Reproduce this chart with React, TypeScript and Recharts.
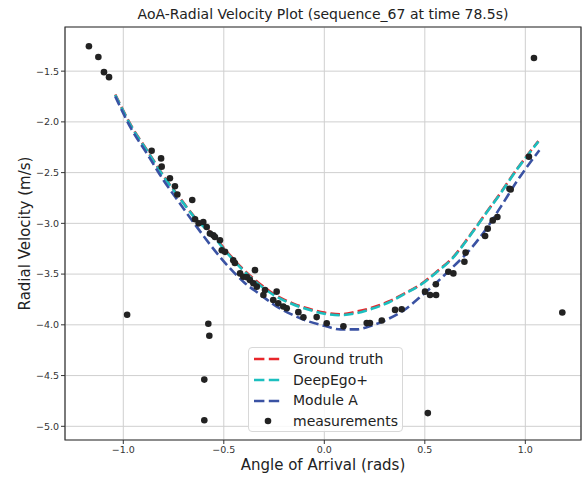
import React from 'react';
import {
  ComposedChart, Line, Scatter, XAxis, YAxis, CartesianGrid, ReferenceArea, Legend,
} from 'recharts';

// ---- data ----
const titleText = 'AoA-Radial Velocity Plot (sequence_67 at time 78.5s)';
const xLabel = 'Angle of Arrival (rads)';
const yLabel = 'Radial Velocity (m/s)';
const seriesNames = ['Ground truth', 'DeepEgo+', 'Module A', 'measurements'];

const xTicks = [-1.0, -0.5, 0.0, 0.5, 1.0];
const yTicks = [-5.0, -4.5, -4.0, -3.5, -3.0, -2.5, -2.0, -1.5];
const xDomain = [-1.29, 1.277];
const yDomain = [-5.135, -1.065];

const curveX = [-1.04, -0.96, -0.88, -0.8, -0.72, -0.64, -0.56, -0.48, -0.4, -0.32, -0.24, -0.16, -0.08, 0.0, 0.08, 0.16, 0.24, 0.32, 0.4, 0.48, 0.56, 0.64, 0.72, 0.8, 0.88, 0.96, 1.065];
const groundTruthY = [-1.73, -2.04, -2.285, -2.53, -2.745, -2.95, -3.10, -3.29, -3.46, -3.597, -3.71, -3.786, -3.84, -3.88, -3.897, -3.87, -3.83, -3.77, -3.69, -3.60, -3.475, -3.335, -3.13, -2.91, -2.69, -2.46, -2.19];
const deepEgoY = [-1.735, -2.045, -2.29, -2.535, -2.75, -2.955, -3.11, -3.30, -3.47, -3.61, -3.72, -3.795, -3.85, -3.89, -3.905, -3.885, -3.84, -3.78, -3.695, -3.605, -3.48, -3.34, -3.135, -2.915, -2.695, -2.465, -2.195];
const moduleAX = [-1.04, -0.96, -0.88, -0.8, -0.72, -0.64, -0.56, -0.48, -0.4, -0.32, -0.24, -0.16, -0.08, 0.0, 0.08, 0.16, 0.24, 0.32, 0.4, 0.48, 0.56, 0.64, 0.72, 0.8, 0.88, 0.96, 1.07];
const moduleAY = [-1.75, -2.07, -2.32, -2.575, -2.80, -3.02, -3.23, -3.42, -3.58, -3.70, -3.815, -3.90, -3.965, -4.01, -4.045, -4.045, -4.005, -3.94, -3.85, -3.72, -3.58, -3.43, -3.27, -3.07, -2.83, -2.58, -2.28];

const measX = [-1.171, -1.124, -1.096, -1.071, -0.981, -0.859, -0.812, -0.809, -0.768, -0.743, -0.731, -0.657, -0.643, -0.625, -0.602, -0.597, -0.597, -0.585, -0.577, -0.572, -0.569, -0.552, -0.544, -0.519, -0.51, -0.494, -0.453, -0.445, -0.419, -0.403, -0.385, -0.37, -0.345, -0.353, -0.336, -0.303, -0.295, -0.237, -0.254, -0.229, -0.204, -0.187, -0.129, -0.104, -0.038, 0.012, 0.095, 0.211, 0.227, 0.286, 0.352, 0.385, 0.501, 0.515, 0.526, 0.556, 0.555, 0.617, 0.642, 0.697, 0.703, 0.8, 0.813, 0.838, 0.861, 0.921, 0.927, 1.018, 1.043, 1.184];
const measY = [-1.255, -1.36, -1.51, -1.559, -3.9, -2.284, -2.36, -2.441, -2.556, -2.634, -2.716, -2.77, -2.96, -3.0, -2.987, -4.54, -4.94, -3.036, -3.99, -4.108, -3.101, -3.118, -3.134, -3.167, -3.265, -3.281, -3.363, -3.39, -3.493, -3.526, -3.53, -3.559, -3.461, -3.591, -3.624, -3.706, -3.657, -3.673, -3.755, -3.787, -3.82, -3.836, -3.875, -3.925, -3.924, -3.985, -4.015, -3.983, -3.983, -3.958, -3.853, -3.846, -3.673, -4.87, -3.706, -3.706, -3.6, -3.477, -3.493, -3.379, -3.288, -3.124, -3.052, -2.971, -2.938, -2.66, -2.667, -2.343, -1.37, -3.879];

const colors = ['#e8262b', '#1cbfbf', '#3a52a3', '#222222'];

const gtData = curveX.map((x, i) => ({ x, y: groundTruthY[i] }));
const deData = curveX.map((x, i) => ({ x, y: deepEgoY[i] }));
const maData = moduleAX.map((x, i) => ({ x, y: moduleAY[i] }));
const measData = measX.map((x, i) => ({ x, y: measY[i] }));

const FONT = '"DejaVu Sans", sans-serif';
const fmt = (v: number) => (v < 0 ? '\u2212' : '') + Math.abs(v).toFixed(1);
const DASH = '9.6 4.2';

const LegendBox = () => (
  <div style={{
    width: 155, height: 85, boxSizing: 'border-box', border: '1px solid #d8d8d8', borderRadius: 4,
    background: 'rgba(255,255,255,0.85)', fontFamily: FONT, fontSize: 14, color: '#222', paddingTop: 1,
  }}>
    {seriesNames.map((name, i) => (
      <div key={name} style={{ display: 'flex', alignItems: 'center', height: 20.7 }}>
        <svg width={44} height={12} style={{ display: 'block' }}>
          {i < 3 ? (
            <line x1={5} y1={6} x2={31} y2={6} stroke={colors[i]} strokeWidth={2.6} strokeDasharray="10.4 4.4" />
          ) : (
            <circle cx={19} cy={6} r={3.3} fill={colors[3]} />
          )}
        </svg>
        <span style={{ whiteSpace: 'nowrap', lineHeight: '15px' }}>{name}</span>
      </div>
    ))}
  </div>
);

const Dot = (props: any) => <circle cx={props.cx} cy={props.cy} r={3.3} fill={colors[3]} />;

export default function App() {
  return (
    <div style={{ position: 'absolute', left: 0, top: 0, width: 587, height: 478, background: '#fff' }}>
      <div style={{
        position: 'absolute', left: 0, top: 6, width: 646, textAlign: 'center', fontFamily: FONT,
        fontSize: 14, lineHeight: '16px', color: '#222', zIndex: 2,
      }}>{titleText}</div>
      <ComposedChart width={587} height={478} margin={{ top: 27, right: 6, bottom: 0, left: 0 }}>
        <CartesianGrid stroke="#cfcfcf" strokeWidth={1} />
        <XAxis
          type="number" dataKey="x" domain={xDomain} ticks={xTicks} allowDataOverflow
          tickFormatter={fmt} height={38} axisLine={false} tickSize={4} tickMargin={2}
          tickLine={{ stroke: '#333' }} tick={{ fill: '#333', fontSize: 9.5, fontFamily: FONT }}
          label={{
            content: () => (
              <text x={323} y={470} textAnchor="middle" fontFamily={FONT} fontSize={15} fill="#222">{xLabel}</text>
            ),
          }}
        />
        <YAxis
          type="number" dataKey="y" domain={yDomain} ticks={yTicks} allowDataOverflow
          tickFormatter={fmt} width={65} axisLine={false} tickSize={4} tickMargin={2}
          tickLine={{ stroke: '#333' }} tick={{ fill: '#333', fontSize: 9.5, fontFamily: FONT }}
          label={{
            content: () => (
              <text x={30} y={233.5} transform="rotate(-90, 30, 233.5)" textAnchor="middle" fontFamily={FONT} fontSize={15} fill="#222">{yLabel}</text>
            ),
          }}
        />
        <Scatter name={seriesNames[3]} data={measData} shape={Dot} isAnimationActive={false} />
        <Line name={seriesNames[0]} data={gtData} dataKey="y" type="monotone" stroke={colors[0]} strokeWidth={2.6} strokeDasharray={DASH} dot={false} activeDot={false} isAnimationActive={false} />
        <Line name={seriesNames[1]} data={deData} dataKey="y" type="monotone" stroke={colors[1]} strokeWidth={2.6} strokeDasharray={DASH} dot={false} activeDot={false} isAnimationActive={false} />
        <Line name={seriesNames[2]} data={maData} dataKey="y" type="monotone" stroke={colors[2]} strokeWidth={2.6} strokeDasharray={DASH} dot={false} activeDot={false} isAnimationActive={false} />
        <ReferenceArea x1={xDomain[0]} x2={xDomain[1]} y1={yDomain[0]} y2={yDomain[1]} fill="none" stroke="#333" strokeWidth={1.2} fillOpacity={0} ifOverflow="visible" />
        <Legend
          layout="vertical" align="center" verticalAlign="middle"
          content={() => <LegendBox />}
          wrapperStyle={{ position: 'absolute', left: 248, top: 347, width: 155, height: 85 }}
        />
      </ComposedChart>
    </div>
  );
}
